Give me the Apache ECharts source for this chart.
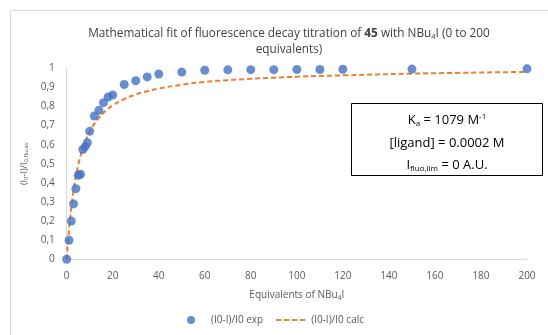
<!DOCTYPE html>
<html lang="en">
<head>
    <meta charset="UTF-8">
    <title>Fluorescence decay titration fit</title>
    <script src="https://cdn.jsdelivr.net/npm/echarts@6/dist/echarts.min.js"></script>
    <style>
        html, body { margin: 0; padding: 0; background: #fff; }
        #chart { width: 548px; height: 335px; }
    </style>
</head>
<body>
<div id="chart"></div>
<script type="text/javascript">
    // equivalents of NBu4I
    var equivalents = [0, 1, 2, 3, 4, 5, 6, 7, 8, 9, 10, 12, 14, 16, 18, 20, 25, 30, 35, 40, 50, 60, 70, 80, 90, 100, 110, 120, 150, 200];
    // (I0-I)/I0 experimental
    var expValues = [0, 0.10, 0.20, 0.29, 0.37, 0.44, 0.445, 0.575, 0.59, 0.61, 0.67, 0.75, 0.78, 0.82, 0.85, 0.86, 0.915, 0.935, 0.955, 0.97, 0.98, 0.99, 0.992, 0.993, 0.993, 0.994, 0.994, 0.995, 0.996, 0.997];
    // (I0-I)/I0 calculated
    var calcValues = [0, 0.154, 0.272, 0.363, 0.435, 0.493, 0.541, 0.581, 0.614, 0.643, 0.668, 0.709, 0.741, 0.767, 0.788, 0.806, 0.839, 0.863, 0.880, 0.894, 0.914, 0.929, 0.938, 0.945, 0.951, 0.956, 0.960, 0.963, 0.972, 0.981];
    var seriesNames = ['(I0-I)/I0 exp', '(I0-I)/I0 calc'];

    var chart = echarts.init(document.getElementById('chart'));
    var font = '"Open Sans", "Noto Sans", sans-serif';

    var expData = equivalents.map(function (x, i) { return [x, expValues[i]]; });
    var calcData = equivalents.map(function (x, i) { return [x, calcValues[i]]; });

    chart.setOption({
        animation: false,
        textStyle: { fontFamily: font },
        title: {
            text: '{n|Mathematical fit of fluorescence decay titration of }{b|45}{n| with NBu}{s|4}{n|I (0 to 200}\n{n|equivalents)}',
            left: 284,
            top: 21,
            textAlign: 'center',
            textStyle: {
                fontWeight: 'normal',
                rich: {
                    n: { fontSize: 11.8, color: '#404040', fontWeight: 'normal', fontFamily: font, lineHeight: 16 },
                    b: { fontSize: 11.8, color: '#404040', fontWeight: 'bold', fontFamily: font, lineHeight: 16 },
                    s: { fontSize: 7.5, color: '#404040', fontWeight: 'normal', fontFamily: font, padding: [5, 0, 0, 0], lineHeight: 16 }
                }
            }
        },
        grid: { left: 66.7, right: 21, top: 68.3, bottom: 75.7, containLabel: false },
        legend: {
            bottom: 5,
            left: 182,
            itemWidth: 30,
            itemHeight: 8,
            itemGap: 12,
            textStyle: { color: '#595959', fontSize: 10, fontFamily: font },
            data: [
                { name: seriesNames[0] },
                { name: seriesNames[1], itemStyle: { opacity: 0 } }
            ]
        },
        xAxis: {
            type: 'value',
            min: 0,
            max: 200,
            interval: 20,
            name: '{n|Equivalents of NBu}{s|4}{n|I}',
            nameLocation: 'middle',
            nameGap: 30,
            nameTextStyle: {
                rich: {
                    n: { fontSize: 10, color: '#595959', fontFamily: font },
                    s: { fontSize: 7, color: '#595959', fontFamily: font, padding: [5, 0, 0, 0] }
                }
            },
            axisLine: { show: true, lineStyle: { color: '#d9d9d9', width: 1 } },
            axisTick: { show: false },
            splitLine: { show: false },
            axisLabel: { color: '#595959', fontSize: 10, margin: 12 }
        },
        yAxis: {
            type: 'value',
            min: 0,
            max: 1,
            interval: 0.1,
            name: '{n|(I}{s|0}{n|-I)/I}{s|0,flu,av}',
            nameLocation: 'middle',
            nameGap: 26,
            nameTextStyle: {
                rich: {
                    n: { fontSize: 9, color: '#595959', fontFamily: font },
                    s: { fontSize: 6, color: '#595959', fontFamily: font, padding: [4, 0, 0, 0] }
                }
            },
            axisLine: { show: true, lineStyle: { color: '#d9d9d9', width: 1 } },
            axisTick: { show: false },
            splitLine: { show: false },
            axisLabel: {
                color: '#595959',
                fontSize: 10,
                margin: 12,
                formatter: function (v) {
                    if (v === 0 || v === 1) return String(v);
                    return v.toFixed(1).replace('.', ',');
                }
            }
        },
        graphic: [
            {
                type: 'rect',
                shape: { x: 10.5, y: 10.5, width: 600, height: 400 },
                style: { fill: 'none', stroke: '#d9d9d9', lineWidth: 1 },
                silent: true,
                z: -10
            },
            {
                type: 'rect',
                shape: { x: 351.5, y: 103.5, width: 191, height: 72 },
                style: { fill: '#fff', stroke: '#000', lineWidth: 1 },
                z: 10
            },
            {
                type: 'text',
                x: 447,
                y: 120,
                z: 11,
                style: {
                    text: '{n|K}{s|a}{n| = 1079 M}{p|-1}',
                    align: 'center',
                    verticalAlign: 'middle',
                    rich: {
                        n: { fontSize: 13, fill: '#000', fontFamily: font },
                        s: { fontSize: 8, fill: '#000', fontFamily: font, padding: [7, 0, 0, 0] },
                        p: { fontSize: 8, fill: '#000', fontFamily: font, padding: [0, 0, 6, 0] }
                    }
                }
            },
            {
                type: 'text',
                x: 447,
                y: 143,
                z: 11,
                style: {
                    text: '[ligand] = 0.0002 M',
                    align: 'center',
                    verticalAlign: 'middle',
                    fontSize: 13,
                    fill: '#000',
                    fontFamily: font
                }
            },
            {
                type: 'text',
                x: 447,
                y: 165,
                z: 11,
                style: {
                    text: '{n|I}{s|fluo,lim}{n| = 0 A.U.}',
                    align: 'center',
                    verticalAlign: 'middle',
                    rich: {
                        n: { fontSize: 13, fill: '#000', fontFamily: font },
                        s: { fontSize: 8, fill: '#000', fontFamily: font, padding: [7, 0, 0, 0] }
                    }
                }
            }
        ],
        series: [
            {
                name: seriesNames[0],
                type: 'scatter',
                data: expData,
                symbol: 'circle',
                symbolSize: 9,
                itemStyle: { color: '#4472C4' },
                z: 3
            },
            {
                name: seriesNames[1],
                type: 'line',
                data: calcData,
                smooth: true,
                symbol: 'none',
                showSymbol: false,
                itemStyle: { color: '#ED7D31' },
                lineStyle: { color: '#ED7D31', width: 2, type: [5, 3] },
                z: 2
            }
        ]
    });
</script>
</body>
</html>
